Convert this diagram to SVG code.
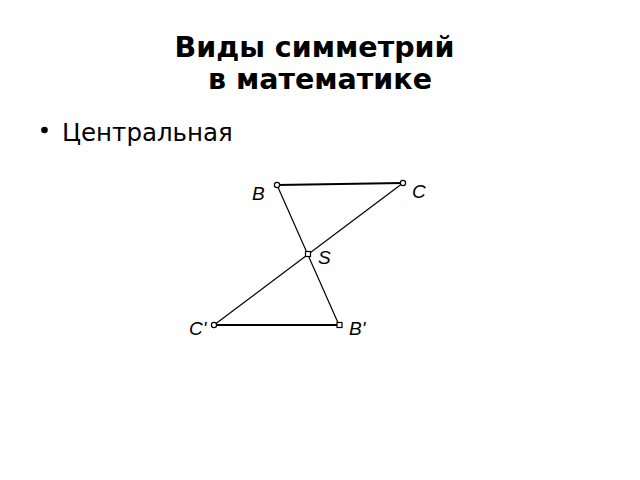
<svg xmlns="http://www.w3.org/2000/svg" width="640" height="480" viewBox="0 0 640 480">
<style>
.title{font-family:"DejaVu Sans",sans-serif;font-weight:bold;font-size:28.5px;fill:#000;text-anchor:middle}
.body{font-family:"DejaVu Sans",sans-serif;font-size:24.5px;fill:#000}
.lbl{font-family:"Liberation Sans",sans-serif;font-style:italic;font-size:19px;fill:#000}
.thin{stroke:#000;stroke-width:1.2;fill:none}
.thick{stroke:#000;stroke-width:2.2;fill:none}
.pt{fill:#fff;stroke:#000;stroke-width:1.2}
</style>
<rect width="640" height="480" fill="#fff"/>
<g id="title">
<text class="title" x="314.5" y="57">Виды симметрий</text>
<text class="title" x="320" y="89">в математике</text>
</g>
<g id="bullet">
<circle cx="44.5" cy="130" r="3.3" fill="#000"/>
<text class="body" x="62" y="141">Центральная</text>
</g>
<g id="connectors">
<line class="thick" x1="277" y1="185" x2="403" y2="183"/>
<line class="thick" x1="214" y1="325" x2="339" y2="325"/>
<line class="thin" x1="277" y1="185" x2="339" y2="325"/>
<line class="thin" x1="403" y1="183" x2="214" y2="325"/>
</g>
<g id="B"><circle class="pt" cx="277" cy="185" r="2.6"/><text class="lbl" x="252" y="200">B</text></g>
<g id="C"><circle class="pt" cx="403" cy="183" r="2.6"/><text class="lbl" x="412" y="198">C</text></g>
<g id="S"><rect class="pt" x="305.5" y="251.5" width="5" height="5"/><text class="lbl" x="318" y="264">S</text></g>
<g id="C1"><circle class="pt" cx="214" cy="325" r="2.6"/><text class="lbl" x="189" y="335">C'</text></g>
<g id="B1"><rect class="pt" x="337" y="322.5" width="5" height="5"/><text class="lbl" x="349" y="335">B'</text></g>
</svg>
